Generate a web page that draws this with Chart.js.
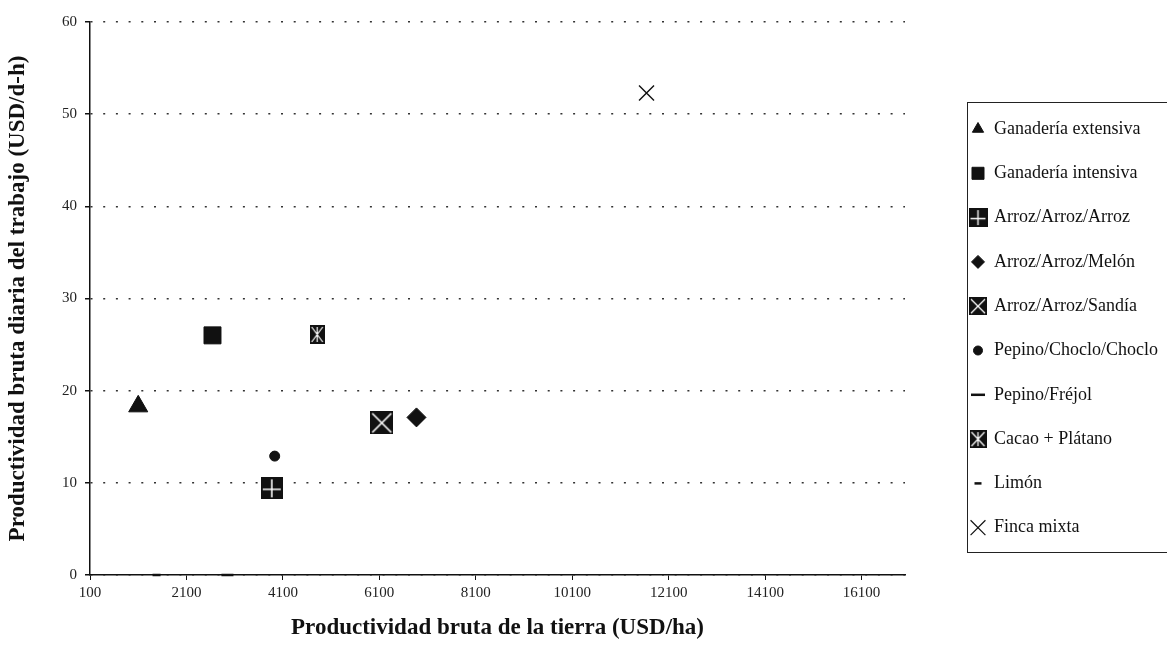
<!DOCTYPE html>
<html>
<head>
<meta charset="utf-8">
<title>Productividad bruta</title>
<script src="https://cdn.jsdelivr.net/npm/chart.js@4.4.0/dist/chart.umd.min.js"></script>
<style>
  body { margin: 0; background: #fff; }
  canvas { display: block; }
</style>
</head>
<body>
<canvas id="chart" width="1167" height="649"></canvas>
<script>
// Data
const seriesNames = [
    'Ganadería extensiva', 'Ganadería intensiva', 'Arroz/Arroz/Arroz',
    'Arroz/Arroz/Melón', 'Arroz/Arroz/Sandía', 'Pepino/Choclo/Choclo',
    'Pepino/Fréjol', 'Cacao + Plátano', 'Limón', 'Finca mixta'
];
const landProductivity = [1100, 2640, 3870, 6870, 6150, 3930, 2950, 4810, 1480, 11640];   // USD/ha
const laborProductivity = [18.3, 26.0, 9.4, 17.1, 16.5, 12.9, 0, 26.1, 0, 52.3];          // USD/d-h
const xTickValues = [100, 2100, 4100, 6100, 8100, 10100, 12100, 14100, 16100];
const yTickValues = [0, 10, 20, 30, 40, 50, 60];

const ink = '#111';
const serif = "'Liberation Serif', 'Times New Roman', serif";

// black boxes with white strokes, like the ones in the original
function boxMarker(w, h, kind) {
    const c = document.createElement('canvas');
    c.width = w; c.height = h;
    const g = c.getContext('2d');
    g.fillStyle = ink;
    g.fillRect(0, 0, w, h);
    g.strokeStyle = '#fff';
    g.lineWidth = Math.max(1.2, w / 14);
    g.beginPath();
    if (kind === 'plus') {
        g.moveTo(w / 2, 2); g.lineTo(w / 2, h - 2);
        g.moveTo(2, h / 2 + 1); g.lineTo(w - 2, h / 2 + 1);
    } else {
        g.moveTo(2, 2); g.lineTo(w - 2, h - 2);
        g.moveTo(w - 2, 2); g.lineTo(2, h - 2);
        if (kind === 'star') { g.moveTo(w / 2, 2); g.lineTo(w / 2, h - 2); }
    }
    g.stroke();
    return c;
}

const pointStyles = [
    {style: 'triangle', radius: 11, width: 1},
    {style: 'rect', radius: 12, width: 1},
    {style: boxMarker(22, 22, 'plus'), radius: 11, width: 1},
    {style: 'rectRot', radius: 9.5, width: 1},
    {style: boxMarker(23, 23, 'cross'), radius: 11, width: 1},
    {style: 'circle', radius: 5, width: 1},
    {style: 'line', radius: 6, width: 2.5},
    {style: boxMarker(15, 19, 'star'), radius: 10, width: 1},
    {style: 'line', radius: 4, width: 2.5},
    {style: 'crossRot', radius: 10.6, width: 1.4}
];

const legendStyles = [
    {style: 'triangle', radius: 6.5, width: 1},
    {style: 'rect', radius: 8.5, width: 1},
    {style: boxMarker(19, 19, 'plus'), radius: 9, width: 1},
    {style: 'rectRot', radius: 6.5, width: 1},
    {style: boxMarker(18, 18, 'cross'), radius: 9, width: 1},
    {style: 'circle', radius: 4.5, width: 1},
    {style: 'line', radius: 7, width: 2.5},
    {style: boxMarker(17, 18, 'star'), radius: 9, width: 1},
    {style: 'line', radius: 3.5, width: 2.5},
    {style: 'crossRot', radius: 10.5, width: 1.2}
];

const datasets = seriesNames.map((name, i) => ({
    label: name,
    data: [{x: landProductivity[i], y: laborProductivity[i]}],
    pointStyle: pointStyles[i].style,
    pointRadius: pointStyles[i].radius,
    pointHoverRadius: pointStyles[i].radius,
    pointBorderWidth: pointStyles[i].width,
    backgroundColor: ink,
    borderColor: ink,
    clip: false
}));

// boxed legend on the right, drawn by hand
const boxedLegend = {
    id: 'boxedLegend',
    afterDraw(chart) {
        const ctx = chart.ctx;
        const left = 967, top = 102, bottom = 552, right = 1175;
        ctx.save();
        ctx.strokeStyle = '#222';
        ctx.lineWidth = 1;
        ctx.strokeRect(left + 0.5, top + 0.5, right - left, bottom - top);
        ctx.font = '18px ' + serif;
        ctx.textBaseline = 'middle';
        seriesNames.forEach((name, i) => {
            const y = 129 + i * 44.3;
            const s = legendStyles[i];
            ctx.fillStyle = ink;
            ctx.strokeStyle = ink;
            ctx.lineWidth = s.width;
            Chart.helpers.drawPoint(ctx, {pointStyle: s.style, radius: s.radius, borderWidth: s.width, rotation: 0}, 978, y);
            ctx.fillStyle = ink;
            ctx.fillText(name, 994, y);
        });
        ctx.restore();
    }
};

new Chart(document.getElementById('chart'), {
    type: 'scatter',
    data: {datasets: datasets},
    options: {
        responsive: false,
        devicePixelRatio: 1,
        animation: false,
        layout: {padding: {top: 22, right: 262, bottom: 0, left: 0}},
        plugins: {legend: {display: false}, tooltip: {enabled: false}},
        scales: {
            x: {
                type: 'linear',
                min: 100,
                max: 17000,
                afterBuildTicks: (scale) => { scale.ticks = xTickValues.map(v => ({value: v})); },
                afterFit: (scale) => { scale.height = 74; },
                grid: {drawOnChartArea: false, drawTicks: true, tickLength: 5, color: ink, tickColor: ink},
                border: {display: true, color: ink, width: 1.5},
                ticks: {
                    color: '#222', font: {family: serif, size: 15}, padding: 4,
                    maxRotation: 0, autoSkip: false,
                    callback: (v) => String(v)
                },
                title: {
                    display: true,
                    text: 'Productividad bruta de la tierra (USD/ha)',
                    color: ink,
                    font: {family: serif, size: 23, weight: 'bold'},
                    padding: {top: 7, bottom: 7}
                }
            },
            y: {
                min: 0,
                max: 60,
                afterBuildTicks: (scale) => { scale.ticks = yTickValues.map(v => ({value: v})); },
                afterFit: (scale) => { scale.width = 90; },
                grid: {color: '#333', lineWidth: 1.5, tickLength: 5, tickColor: ink, tickBorderDash: [], drawTicks: true},
                border: {display: true, color: ink, width: 1.5, dash: [2, 10.7]},
                ticks: {color: '#222', font: {family: serif, size: 15}, padding: 8, callback: (v) => String(v)},
                title: {
                    display: true,
                    text: 'Productividad bruta diaria del trabajo (USD/d-h)',
                    color: ink,
                    font: {family: serif, size: 23, weight: 'bold'},
                    padding: {top: 4, bottom: 4}
                }
            }
        }
    },
    plugins: [boxedLegend]
});
</script>
</body>
</html>
